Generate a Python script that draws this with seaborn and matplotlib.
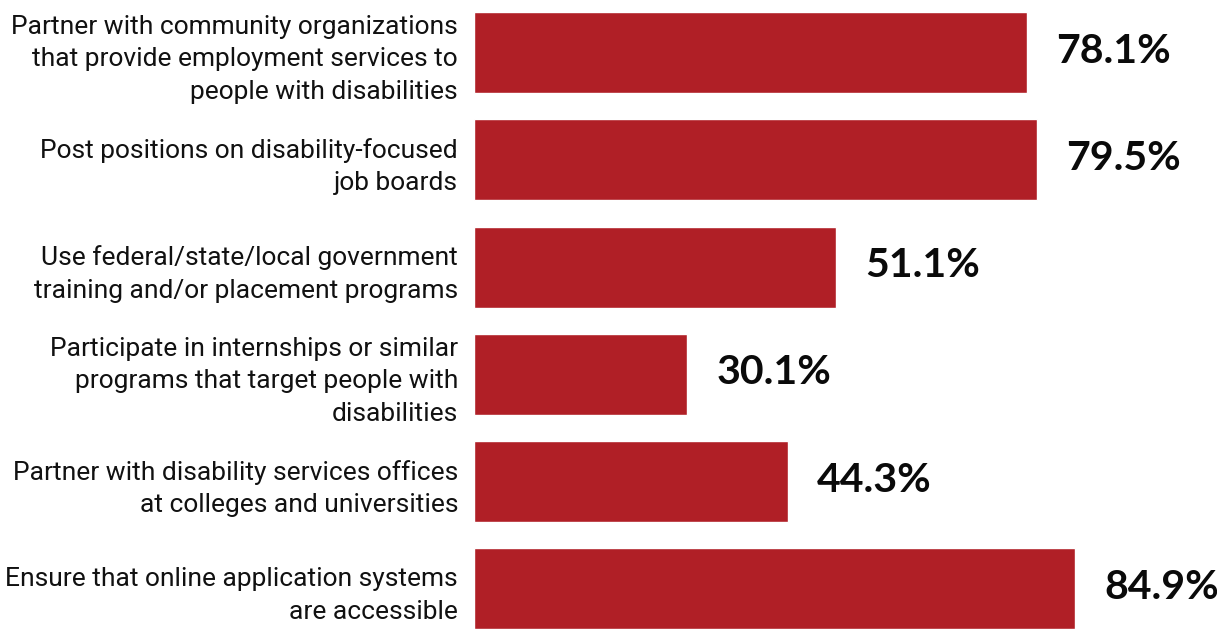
import matplotlib
matplotlib.use("Agg")
import matplotlib.pyplot as plt
from matplotlib import font_manager
import seaborn as sns
import pandas as pd

# Survey responses: share of employers using each recruitment practice
categories = [
    "Partner with community organizations\nthat provide employment services to\npeople with disabilities",
    "Post positions on disability-focused\njob boards",
    "Use federal/state/local government\ntraining and/or placement programs",
    "Participate in internships or similar\nprograms that target people with\ndisabilities",
    "Partner with disability services offices\nat colleges and universities",
    "Ensure that online application systems\nare accessible",
]
percentages = [78.1, 79.5, 51.1, 30.1, 44.3, 84.9]

df = pd.DataFrame({"practice": categories, "pct": percentages})

sns.set_theme(style="white")

installed = {f.name for f in font_manager.fontManager.ttflist}
label_font = "Liberation Sans Narrow" if "Liberation Sans Narrow" in installed else "Roboto"
value_font = "Lato" if "Lato" in installed else "DejaVu Sans"
plt.rcParams["font.family"] = [label_font, "DejaVu Sans"]

BAR_RED = "#B01F26"

fig = plt.figure(figsize=(12.17, 6.29), dpi=100)
ax = fig.add_axes([474 / 1217, 0, 743 / 1217, 1])

sns.barplot(data=df, x="pct", y="practice", orient="h", color=BAR_RED,
            saturation=1, width=0.755, ax=ax)

ax.set_xlim(0, 104.9)
ax.set_ylim(5.373, -0.489)
ax.set_xlabel("")
ax.set_ylabel("")
ax.set_xticks([])
for side in ax.spines.values():
    side.set_visible(False)

ax.tick_params(axis="y", length=0, pad=11.5)
for lbl in ax.get_yticklabels():
    lbl.set_fontsize(19)
    lbl.set_linespacing(1.45)
    lbl.set_color("#111111")
    lbl.set_horizontalalignment("right")

for i, v in enumerate(percentages):
    ax.annotate(f"{v:.1f}%", xy=(v, i), xytext=(21, 1), textcoords="offset points",
                ha="left", va="center", fontsize=29.5, fontweight="bold",
                family=[value_font, "DejaVu Sans"], color="#0a0a0a")

fig.savefig("out.png", dpi=100)
